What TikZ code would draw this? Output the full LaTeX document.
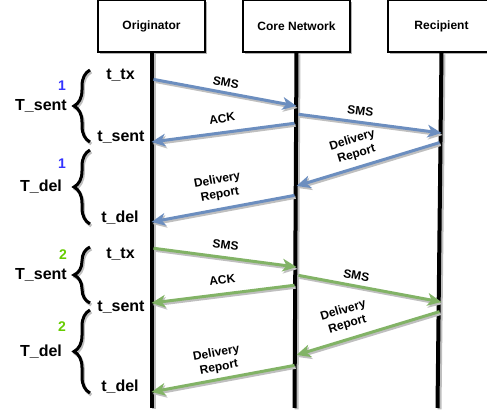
\documentclass[tikz,border=0pt]{standalone}
\usepackage{fontspec}
\setmainfont{Liberation Sans}
\usetikzlibrary{arrows.meta, positioning, calc, decorations.pathreplacing}

\definecolor{smsblue}{HTML}{6C8EBF}
\definecolor{smsgreen}{HTML}{82B366}
\definecolor{idblue}{HTML}{3333FF}
\definecolor{idgreen}{HTML}{66CC00}

\begin{document}
\begin{tikzpicture}[
        x=0.75pt, y=-0.75pt,
        node distance=27pt,
        party/.style={rectangle, draw, line width=1.5pt, fill=white, minimum width=80.25pt, minimum height=39pt, font=\bfseries\fontsize{9}{11}\selectfont, preaction={fill=black!30, transform canvas={shift={(1.5pt,-1.5pt)}}}},
        lifeline/.style={line width=3pt, preaction={draw=black!25, line width=3pt, transform canvas={shift={(1.5pt,-1pt)}}}},
        msg/.style={line width=2.25pt, shorten <=1.5pt, -{Stealth[length=10.5pt, width=9.5pt, inset=3pt]}, preaction={draw=black!25, line width=2.25pt, -{Stealth[length=10.5pt, width=9.5pt, inset=3pt]}, transform canvas={shift={(0.8pt,-1.5pt)}}}},
        msglabel/.style={sloped, above, text=black, align=center, font=\bfseries\fontsize{9}{11}\selectfont},
        stamp/.style={font=\bfseries\fontsize{12}{14}\selectfont},
        period/.style={font=\bfseries\fontsize{12}{14}\selectfont},
        runid/.style={font=\bfseries\fontsize{10.5}{12}\selectfont},
        bracket/.style={decorate, decoration={brace, amplitude=12pt}, line width=2.25pt, preaction={draw=black!25, line width=2.25pt, transform canvas={shift={(1pt,-1.5pt)}}}}
    ]
    \useasboundingbox (0,0) rectangle (487,414);

    % Parties and lifelines
    \coordinate (orig_end) at (151.5,408);
    \coordinate (core_end) at (294.5,408);
    \coordinate (recp_end) at (437.5,408);
    \node (orig) [party] at (151.5,26) {Originator};
    \node (core) [party, right=of orig] {Core Network};
    \node (recp) [party, right=of core] {Recipient};
    \draw[lifeline] (orig.south) -- (orig_end);
    \draw[lifeline] (core.south) -- (core_end);
    \draw[lifeline] (recp.south) -- (recp_end);

    % Stage A: first SMS (blue)
    \coordinate (O_tx_A) at (orig |- 0,79);
    \coordinate (C_sms_A) at (core |- 0,106);
    \coordinate (C_fwd_A) at (core |- 0,114);
    \coordinate (R_sms_A) at (recp |- 0,133);
    \coordinate (C_ack_A) at (core |- 0,123);
    \coordinate (O_sent_A) at (orig |- 0,142);
    \coordinate (R_dr_A) at (recp |- 0,142);
    \coordinate (C_dr_A) at (core |- 0,186);
    \coordinate (C_drf_A) at (core |- 0,195);
    \coordinate (O_del_A) at (orig |- 0,222);
    \draw[msg, smsblue] (O_tx_A) -- node[msglabel] {SMS} (C_sms_A);
    \draw[msg, smsblue] (C_fwd_A) -- node[msglabel, pos=0.43, above=1pt] {SMS} (R_sms_A);
    \draw[msg, smsblue] (C_ack_A) -- node[msglabel, above=3pt] {ACK} (O_sent_A);
    \draw[msg, smsblue] (R_dr_A) -- node[msglabel, pos=0.56, above=1pt] {Delivery\\Report} (C_dr_A);
    \draw[msg, smsblue] (C_drf_A) -- node[msglabel, pos=0.51, above=2pt] {Delivery\\Report} (O_del_A);

    \node (tx_A) [stamp] at (120.5,75.5) {t\_tx};
    \node (sent_A) [stamp] at (121,137) {t\_sent};
    \node (del_A) [stamp] at (120,218) {t\_del};
    \node (Tsent_A) [period] at (41,106) {T\_sent};
    \node (Tdel_A) [period] at (41,187) {T\_del};
    \node (idsent_A) [runid, text=idblue] at (62,85.5) {1};
    \node (iddel_A) [runid, text=idblue] at (62,164) {1};
    \draw[bracket] (90,142) -- (90,70);
    \draw[bracket] (90,224) -- (90,150);

    % Stage B: second SMS (green)
    \coordinate (O_tx_B) at (orig |- 0,248);
    \coordinate (C_sms_B) at (core |- 0,267);
    \coordinate (C_fwd_B) at (core |- 0,275);
    \coordinate (R_sms_B) at (recp |- 0,302);
    \coordinate (C_ack_B) at (core |- 0,285);
    \coordinate (O_sent_B) at (orig |- 0,303);
    \coordinate (R_dr_B) at (recp |- 0,311);
    \coordinate (C_dr_B) at (core |- 0,355);
    \coordinate (C_drf_B) at (core |- 0,365);
    \coordinate (O_del_B) at (orig |- 0,392);
    \draw[msg, smsgreen] (O_tx_B) -- node[msglabel, above=2pt] {SMS} (C_sms_B);
    \draw[msg, smsgreen] (C_fwd_B) -- node[msglabel, pos=0.4] {SMS} (R_sms_B);
    \draw[msg, smsgreen] (C_ack_B) -- node[msglabel, above=3pt] {ACK} (O_sent_B);
    \draw[msg, smsgreen] (R_dr_B) -- node[msglabel, pos=0.62, above=2pt] {Delivery\\Report} (C_dr_B);
    \draw[msg, smsgreen] (C_drf_B) -- node[msglabel, pos=0.52] {Delivery\\Report} (O_del_B);

    \node (tx_B) [stamp] at (120.5,254) {t\_tx};
    \node (sent_B) [stamp] at (121,307) {t\_sent};
    \node (del_B) [stamp] at (120,387) {t\_del};
    \node (Tsent_B) [period] at (41,275) {T\_sent};
    \node (Tdel_B) [period] at (41,352) {T\_del};
    \node (idsent_B) [runid, text=idgreen] at (63,254.5) {2};
    \node (iddel_B) [runid, text=idgreen] at (62,327) {2};
    \draw[bracket] (90,303) -- (90,247);
    \draw[bracket] (90,393) -- (90,310);

\end{tikzpicture}
\end{document}
